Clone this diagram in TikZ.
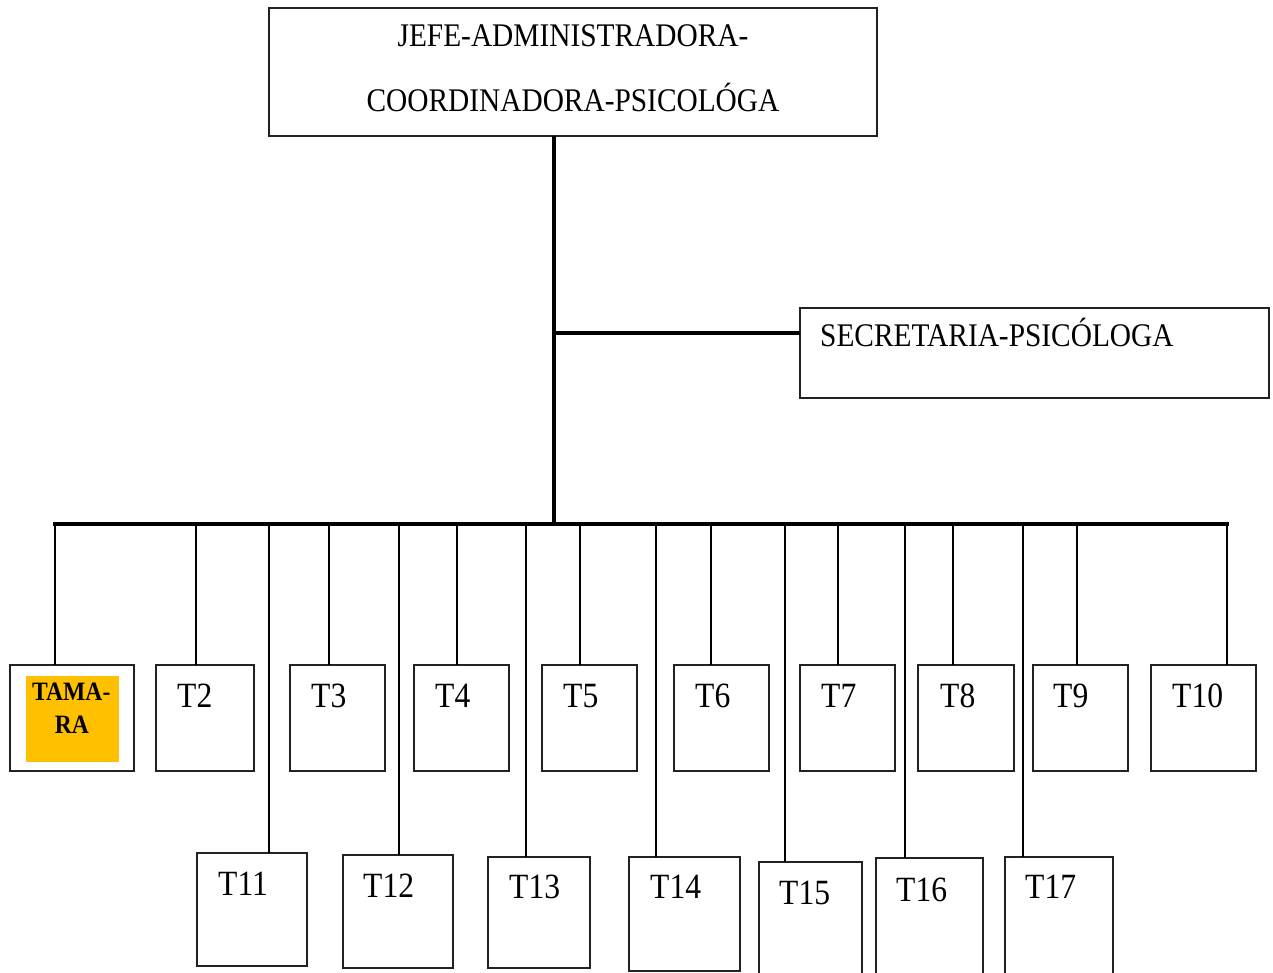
\documentclass[tikz,border=0pt]{standalone}
\usepackage{fontspec}
\setmainfont{Liberation Serif}[FakeStretch=0.89]
\definecolor{tamara}{HTML}{FFC000}
\definecolor{boxline}{HTML}{222222}
\begin{document}
\begin{tikzpicture}[x=1pt,y=-1pt,
  box/.style={draw=boxline,line width=1.2pt,anchor=north west,inner sep=0pt,outer sep=0pt},
  rowbox/.style={box,minimum height=106pt},
  trunk/.style={line width=3.2pt,black},
  drop/.style={line width=2.2pt,black},
  headtxt/.style={font=\fontsize{33}{40}\selectfont,inner sep=0pt,anchor=base},
  tlabel/.style={font=\fontsize{35.5}{42}\selectfont,inner sep=0pt,anchor=base west},
  boldtxt/.style={font=\bfseries\fontsize{26.5}{32}\selectfont,inner sep=0pt}]
\clip (0,0) rectangle (1273,973);
\fill[white] (0,0) rectangle (1273,973);

% boxes
\node[box,minimum width=608pt,minimum height=128pt] (top) at (269,8) {};
\node[box,minimum width=469pt,minimum height=90pt] (sec) at (800,308) {};
\node[rowbox,minimum width=124pt] (t1) at (10,665) {};
\node[box,fill=tamara,draw=none,minimum width=93pt,minimum height=86pt] (tamfill) at (26,676) {};
\node[rowbox,minimum width=98pt] (t2) at (156,665) {};
\node[rowbox,minimum width=95pt] (t3) at (290,665) {};
\node[rowbox,minimum width=95pt] (t4) at (414,665) {};
\node[rowbox,minimum width=95pt] (t5) at (542,665) {};
\node[rowbox,minimum width=95pt] (t6) at (674,665) {};
\node[rowbox,minimum width=95pt] (t7) at (800,665) {};
\node[rowbox,minimum width=96pt] (t8) at (918,665) {};
\node[rowbox,minimum width=95pt] (t9) at (1033,665) {};
\node[rowbox,minimum width=105pt] (t10) at (1151,665) {};
\node[box,minimum width=110pt,minimum height=113pt] (t11) at (197,853) {};
\node[box,minimum width=110pt,minimum height=113pt] (t12) at (343,855) {};
\node[box,minimum width=102pt,minimum height=111pt] (t13) at (488,857) {};
\node[box,minimum width=111pt,minimum height=114pt] (t14) at (629,857) {};
\node[box,minimum width=103pt,minimum height=130pt] (t15) at (759,862) {};
\node[box,minimum width=107pt,minimum height=130pt] (t16) at (876,858) {};
\node[box,minimum width=108pt,minimum height=130pt] (t17) at (1005,857) {};

% texts
\node[headtxt] (h1) at (573,47) {JEFE-ADMINISTRADORA-};
\node[headtxt] (h2) at (573,112) {COORDINADORA-PSICOLÓGA};
\node[headtxt,anchor=base west] (s1) at (820,346) {SECRETARIA-PSICÓLOGA};
\node[boldtxt,anchor=base west] (tam1) at (32,700) {TAMA-};
\node[boldtxt,anchor=base] (tam2) at (72,733) {RA};
\node[tlabel] (l2) at (177,707) {T2};
\node[tlabel] (l3) at (311,707) {T3};
\node[tlabel] (l4) at (435,707) {T4};
\node[tlabel] (l5) at (563,707) {T5};
\node[tlabel] (l6) at (695,707) {T6};
\node[tlabel] (l7) at (821,707) {T7};
\node[tlabel] (l8) at (940,707) {T8};
\node[tlabel] (l9) at (1053,707) {T9};
\node[tlabel] (l10) at (1172,707) {T10};
\node[tlabel] (l11) at (218,895) {T11};
\node[tlabel] (l12) at (363,897) {T12};
\node[tlabel] (l13) at (509,898) {T13};
\node[tlabel] (l14) at (650,898) {T14};
\node[tlabel] (l15) at (779,904) {T15};
\node[tlabel] (l16) at (896,901) {T16};
\node[tlabel] (l17) at (1025,898) {T17};

% connectors
\coordinate (mtop) at (554,136);
\coordinate (mbus) at (554,524);
\coordinate (sj) at (554,333);
\coordinate (busL) at (55,524);
\coordinate (busR) at (1227,524);
\draw[trunk] (mtop) -- (mbus);
\draw[trunk] (sj) -- (sj -| sec.west);
\draw[trunk,line cap=rect] (busL) -- (busR);
\foreach \xx/\nm in {55/t1,196/t2,329/t3,457/t4,580/t5,711/t6,838/t7,953/t8,1077/t9,1227/t10,269/t11,399/t12,526/t13,656/t14,785/t15,905/t16,1023/t17}{
  \coordinate (d\nm) at (\xx,524);
  \draw[drop] (d\nm) -- (d\nm |- \nm.north);
}
\end{tikzpicture}
\end{document}
